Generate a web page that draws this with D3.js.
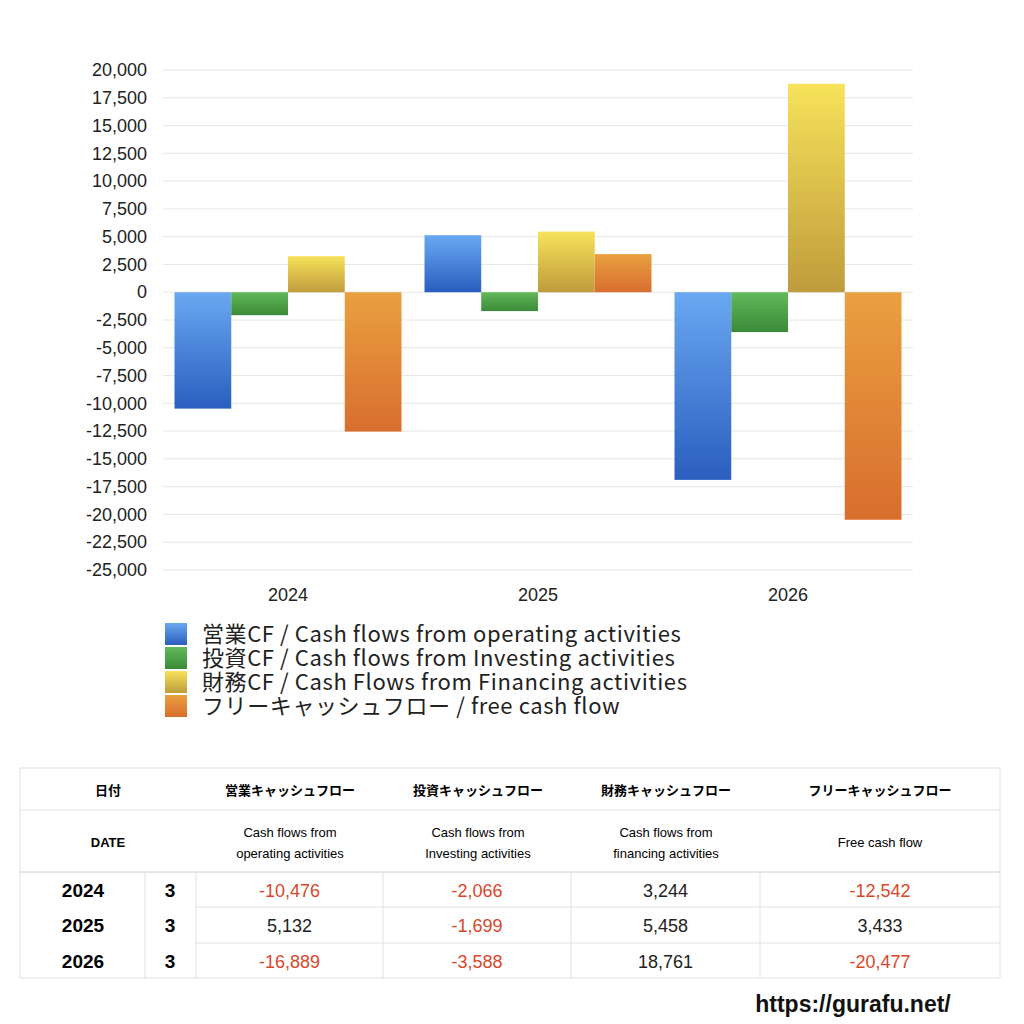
<!DOCTYPE html>
<html><head><meta charset="utf-8">
<script src="https://cdn.jsdelivr.net/npm/d3@7"></script>
<style>body{margin:0;background:#fff;font-family:"Noto Sans CJK JP","Noto Sans",sans-serif}</style>
</head><body><div id="chart"></div>
<script>
const years = ["2024", "2025", "2026"];
const months = ["3", "3", "3"];
const seriesNames = ["営業CF / Cash flows from operating activities", "投資CF / Cash flows from Investing activities", "財務CF / Cash Flows from Financing activities", "フリーキャッシュフロー / free cash flow"];
const operating = [-10476, 5132, -16889];
const investing = [-2066, -1699, -3588];
const financing = [3244, 5458, 18761];
const freeCF = [-12542, 3433, -20477];
const yTicks = d3.range(-25000, 20001, 2500);
const colors = [["#6aa8f2", "#2a5ebf"], ["#62b95a", "#3a8a38"], ["#f7e25a", "#bf9c3c"], ["#eaa040", "#d86e2e"]];
const headJa = ["営業キャッシュフロー", "投資キャッシュフロー", "財務キャッシュフロー", "フリーキャッシュフロー"];
const headEn = [["Cash flows from", "operating activities"], ["Cash flows from", "Investing activities"], ["Cash flows from", "financing activities"], ["Free cash flow"]];

const series = [operating, investing, financing, freeCF];
const fmt = d => d3.format(",")(d).replace("−", "-");
const latin = "Liberation Sans, Arial, sans-serif";
const svg = d3.select("#chart").append("svg").attr("width", 1024).attr("height", 1024);
const defs = svg.append("defs");
colors.forEach((c, i) => {
  const g = defs.append("linearGradient").attr("id", "g" + i).attr("x1", 0).attr("y1", 0).attr("x2", 0).attr("y2", 1);
  g.append("stop").attr("offset", "0%").attr("stop-color", c[0]);
  g.append("stop").attr("offset", "100%").attr("stop-color", c[1]);
});

const x = d3.scaleBand().domain(years).range([163, 913]).paddingInner(0).paddingOuter(0);
const xs = d3.scaleBand().domain(d3.range(4)).range([11.5, x.bandwidth() - 11.5]);
const y = d3.scaleLinear().domain([-25000, 20000]).range([570, 70]);

// grid
svg.append("g").selectAll("line").data(yTicks).join("line")
  .attr("x1", 163).attr("x2", 913).attr("y1", d => y(d)).attr("y2", d => y(d))
  .attr("stroke", "#e6e6e6");

const ya = svg.append("g").attr("transform", "translate(150,0)")
  .call(d3.axisLeft(y).tickValues(yTicks).tickSize(0).tickFormat(fmt));
ya.select(".domain").remove();
ya.selectAll("text").attr("font-size", 18).attr("fill", "#222").attr("font-family", latin);

const xa = svg.append("g").attr("transform", "translate(0,585)")
  .call(d3.axisBottom(x).tickSize(0));
xa.select(".domain").remove();
xa.selectAll("text").attr("font-size", 18).attr("fill", "#222").attr("font-family", latin);

series.forEach((s, i) => {
  svg.append("g").selectAll("rect").data(s).join("rect")
    .attr("x", (d, j) => x(years[j]) + xs(i)).attr("width", xs.bandwidth())
    .attr("y", d => y(Math.max(0, d))).attr("height", d => Math.abs(y(d) - y(0)))
    .attr("fill", "url(#g" + i + ")");
});

// legend
const lg = svg.append("g");
seriesNames.forEach((n, i) => {
  lg.append("rect").attr("x", 165).attr("y", 623 + i * 24).attr("width", 22).attr("height", 22).attr("fill", "url(#g" + i + ")");
  lg.append("text").attr("x", 202).attr("y", 642 + i * 24).attr("font-size", 22).attr("letter-spacing", 0.6).attr("fill", "#222").text(n);
});

// table
const t = svg.append("g");
const colX = [20, 145, 196, 383, 571, 760, 1000];
const rowY = [768, 810, 872, 907, 943, 978];
const gray = "#e0e0e0";
t.append("rect").attr("x", 20).attr("y", 768).attr("width", 980).attr("height", 210).attr("fill", "none").attr("stroke", gray);
t.append("line").attr("x1", 20).attr("x2", 1000).attr("y1", 810).attr("y2", 810).attr("stroke", gray);
t.append("line").attr("x1", 20).attr("x2", 1000).attr("y1", 872).attr("y2", 872).attr("stroke", "#ccc");
[907, 943].forEach(v => t.append("line").attr("x1", 196).attr("x2", 1000).attr("y1", v).attr("y2", v).attr("stroke", gray));
[145, 196, 383, 571, 760].forEach(v => t.append("line").attr("x1", v).attr("x2", v).attr("y1", 872).attr("y2", 978).attr("stroke", gray));
const hc = [290, 478, 666, 880];
t.append("text").attr("x", 108).attr("y", 795).attr("text-anchor", "middle").attr("font-size", 13).attr("font-weight", "bold").text("日付");
t.append("text").attr("x", 108).attr("y", 847).attr("text-anchor", "middle").attr("font-size", 13).attr("font-weight", "bold").attr("font-family", latin).text("DATE");
headJa.forEach((h, i) => t.append("text").attr("x", hc[i]).attr("y", 795).attr("text-anchor", "middle").attr("font-size", 13).attr("font-weight", "bold").text(h));
headEn.forEach((h, i) => h.forEach((l, k) => t.append("text").attr("x", hc[i]).attr("y", (h.length === 1 ? 847 : 837 + k * 21)).attr("text-anchor", "middle").attr("font-size", 13).attr("font-family", latin).text(l)));
years.forEach((yr, r) => {
  const cy = (rowY[r + 2] + rowY[r + 3]) / 2 + 7;
  t.append("text").attr("x", 83).attr("y", cy).attr("text-anchor", "middle").attr("font-size", 19).attr("font-weight", "bold").attr("font-family", latin).text(yr);
  t.append("text").attr("x", 170).attr("y", cy).attr("text-anchor", "middle").attr("font-size", 19).attr("font-weight", "bold").attr("font-family", latin).text(months[r]);
  series.forEach((s, i) => {
    t.append("text").attr("x", (colX[i + 2] + colX[i + 3]) / 2).attr("y", cy).attr("text-anchor", "middle")
      .attr("font-size", 18).attr("font-family", latin).attr("fill", s[r] < 0 ? "#d9472b" : "#222").text(fmt(s[r]));
  });
});

svg.append("text").attr("x", 853).attr("y", 1012).attr("text-anchor", "middle").attr("font-size", 23).attr("font-weight", "bold").attr("font-family", latin).attr("fill", "#111").text("https://gurafu.net/");
</script></body></html>
